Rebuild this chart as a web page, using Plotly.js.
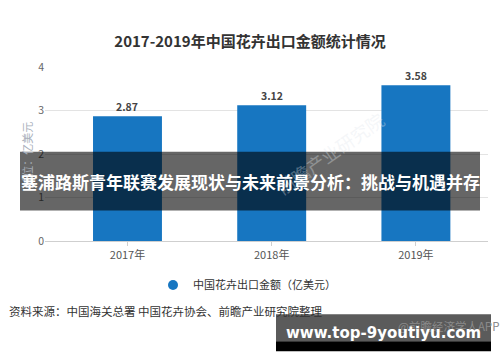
<!DOCTYPE html>
<html>
<head>
<meta charset="utf-8">
<script src="https://cdn.plot.ly/plotly-3.0.1.min.js"></script>
<style>
html,body{margin:0;padding:0;background:#fff;}
#chart{width:500px;height:362px;}
</style>
</head>
<body>
<div id="chart"></div>
<script>
// ---- data ----
const categories = ["2017年", "2018年", "2019年"];
const exportValues = [2.87, 3.12, 3.58];
const valueLabels = ["2.87", "3.12", "3.58"];
const yTicks = [0, 1, 2, 3, 4];
const seriesName = "中国花卉出口金额（亿美元）";
const chartTitle = "2017-2019年中国花卉出口金额统计情况";
const yTitle = "单位：亿美元";
const sourceText = "资料来源：中国海关总署 中国花卉协会、前瞻产业研究院整理";
const bannerText = "塞浦路斯青年联赛发展现状与未来前景分析：挑战与机遇并存";
const siteText = "www.top-9youtiyu.com";
const appText = "@前瞻经济学人APP";
const faintMark = "前瞻产业研究院";

// ---- geometry helpers (pixel -> paper) ----
const L = 45, R = 12, T = 67, B = 120.5, W = 500, H = 362;
const pw = W - L - R, ph = H - T - B;
const px = v => (v - L) / pw;
const py = v => (H - B - v) / ph;

const FONT = "Noto Sans CJK SC, Microsoft YaHei, sans-serif";
const BLUE = "#1776c1";

const traces = [
  {
    type: "bar",
    x: categories,
    y: exportValues,
    width: 0.478,
    marker: {color: BLUE},
    showlegend: false,
    hoverinfo: "skip"
  },
  {
    type: "scatter",
    mode: "markers",
    x: [categories[0]],
    y: [null],
    name: seriesName,
    marker: {color: BLUE, size: 10, symbol: "circle"},
    showlegend: true
  }
];

const annotations = categories.map((c, i) => ({
  x: c, y: exportValues[i], xref: "x", yref: "y",
  text: "<b>" + valueLabels[i] + "</b>", showarrow: false,
  yanchor: "middle", yshift: 9.5,
  font: {family: FONT, size: 10.5, color: "#444"}
}));

annotations.push(
  {xref: "paper", yref: "paper", x: px(330), y: py(104), text: faintMark,
   textangle: -35, showarrow: false,
   font: {family: FONT, size: 18, color: "rgba(225,230,236,0.35)"}},
  {xref: "paper", yref: "paper", x: px(17), y: py(155), text: yTitle,
   textangle: -90, showarrow: false,
   font: {family: FONT, size: 11, color: "#a9b0bb"}},
  {xref: "paper", yref: "paper", x: px(250), y: py(182), text: "<b>" + bannerText + "</b>",
   showarrow: false, xanchor: "center", yanchor: "middle",
   font: {family: FONT, size: 17, color: "#ffffff"}},
  {xref: "paper", yref: "paper", x: px(7), y: py(312), text: sourceText,
   showarrow: false, xanchor: "left", yanchor: "middle",
   font: {family: FONT, size: 11.5, color: "#333"}},
  {xref: "paper", yref: "paper", x: px(501), y: py(327), text: appText,
   showarrow: false, xanchor: "right", yanchor: "middle",
   font: {family: FONT, size: 11.5, color: "#8a8a8a"}},
  {xref: "paper", yref: "paper", x: px(383), y: py(334), text: "<b>" + siteText + "</b>",
   showarrow: false, xanchor: "center", yanchor: "middle",
   font: {family: "DejaVu Sans, sans-serif", size: 15, color: "#ffffff"}}
);

const shapes = [
  {type: "rect", xref: "paper", yref: "paper", x0: px(20), x1: px(480), y0: py(152), y1: py(211),
   fillcolor: "rgba(0,0,0,0.6)", line: {width: 0}, layer: "above"},
  {type: "rect", xref: "paper", yref: "paper", x0: px(276), x1: px(491), y0: py(315), y1: py(342),
   fillcolor: "#5b5b5b", line: {width: 0}, layer: "above"},
  {type: "rect", xref: "paper", yref: "paper", x0: px(276), x1: px(491), y0: py(342), y1: py(352),
   fillcolor: "#000000", line: {width: 0}, layer: "above"}
];

const layout = {
  width: W, height: H,
  margin: {l: L, r: R, t: T, b: B, pad: 0},
  paper_bgcolor: "#fff", plot_bgcolor: "#fff",
  font: {family: FONT},
  title: {text: "<b>" + chartTitle + "</b>", x: 0.5, xref: "container", xanchor: "center",
          y: 1 - 42 / H, yref: "container", yanchor: "middle",
          font: {family: FONT, size: 15, color: "#333"}},
  xaxis: {type: "category", range: [-0.572, 2.5], showgrid: false,
          showline: true, linecolor: "#cfcfcf", linewidth: 1,
          ticks: "outside", ticklen: 4, tickcolor: "#cfcfcf",
          tickfont: {family: FONT, size: 11, color: "#555"}, fixedrange: true},
  yaxis: {range: [0, 4], tickvals: yTicks, showgrid: true, gridcolor: "#e3e3e3",
          zeroline: false, showline: false, ticks: "",
          tickfont: {family: FONT, size: 10.5, color: "#666"}, fixedrange: true},
  legend: {orientation: "h", xref: "container", yref: "container",
           x: 247 / W, xanchor: "center", y: 1 - 285 / H, yanchor: "middle",
           font: {family: FONT, size: 11, color: "#333"}, itemclick: false},
  bargap: 0.52,
  shapes: shapes,
  annotations: annotations,
  showlegend: true
};

Plotly.newPlot("chart", traces, layout, {displayModeBar: false, staticPlot: true});
</script>
</body>
</html>
